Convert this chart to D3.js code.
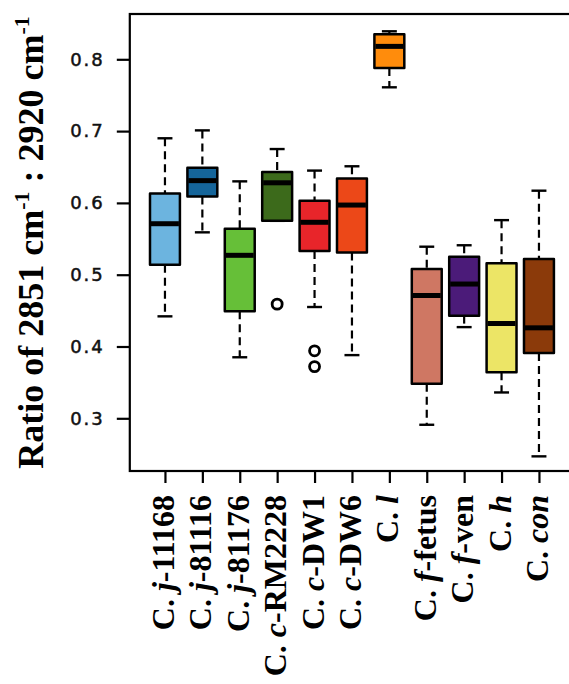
<!DOCTYPE html>
<html lang="en">
<head>
    <meta charset="UTF-8">
    <title>Ratio of 2851 / 2920 cm-1 boxplot</title>
    <style>
        body { margin: 0; background: #fff; }
        .whisker { stroke: #000; stroke-width: 2.2; stroke-dasharray: 8,5; }
        .staple { stroke: #000; stroke-width: 2.4; }
        .box { stroke: #000; stroke-width: 2.5; stroke-linejoin: round; }
        .median { stroke: #000; stroke-width: 5; }
        .outlier { fill: none; stroke: #000; stroke-width: 2.8; }
        .ytick text { font-family: "DejaVu Sans", sans-serif; font-size: 18px; letter-spacing: 2px; fill: #111; stroke: #111; stroke-width: 0.5; }
        .xlab { font-family: "Liberation Serif", "Times New Roman", serif; font-weight: bold; font-size: 32px; }
        .ytitle { font-family: "Liberation Serif", "Times New Roman", serif; font-weight: bold; font-size: 36px; }
    </style>
</head>
<body>
<div id="chart"></div>
<script src="https://d3js.org/d3.v7.min.js"></script>
<script>
    // strain labels: [upright prefix, italic part, upright suffix]
    const labelParts = [
        ["C. ", "j", "-11168"],
        ["C. ", "j", "-81116"],
        ["C. ", "j", "-81176"],
        ["C. ", "c", "-RM2228"],
        ["C. ", "c", "-DW1"],
        ["C. ", "c", "-DW6"],
        ["C. ", "l", ""],
        ["C. ", "f", "-fetus"],
        ["C. ", "f", "-ven"],
        ["C. ", "h", ""],
        ["C. ", "con", ""]
    ];

    const whiskerHigh = [0.690, 0.701, 0.630, 0.675, 0.645, 0.651, 0.839, 0.539, 0.541, 0.576, 0.617];
    const upperQ      = [0.613, 0.649, 0.564, 0.643, 0.603, 0.634, 0.835, 0.508, 0.525, 0.516, 0.522];
    const medians     = [0.571, 0.631, 0.527, 0.628, 0.573, 0.597, 0.818, 0.471, 0.487, 0.432, 0.426];
    const lowerQ      = [0.514, 0.609, 0.449, 0.575, 0.533, 0.531, 0.788, 0.348, 0.443, 0.364, 0.391];
    const whiskerLow  = [0.442, 0.559, 0.385, 0.575, 0.455, 0.388, 0.761, 0.291, 0.427, 0.336, 0.247];
    const outliers    = [[], [], [], [0.459], [0.394, 0.372], [], [], [], [], [], []];

    const fills = ["#6cb4df", "#15659a", "#66bf38", "#3c6a1b", "#e8252a", "#ec4818",
                   "#ff8c0c", "#cf7763", "#4b1b79", "#ece566", "#8b3a0a"];

    const yTicks = [0.3, 0.4, 0.5, 0.6, 0.7, 0.8];

    const W = 569, H = 684;
    const frame = { left: 129.8, top: 14, bottom: 471 };

    const svg = d3.select("#chart").append("svg")
        .attr("width", W)
        .attr("height", H);

    // R style: positions 1..n, xlim (0.5, n+0.5) extended by 4%
    const n = labelParts.length;
    const unit = 37.4;
    const x = d3.scaleLinear()
        .domain([0.06, n + 0.94])
        .range([frame.left, frame.left + (n + 0.88) * unit]);

    const y = d3.scaleLinear()
        .domain([0.3, 0.8])
        .range([418.3, 59.3]);

    const boxW = 0.8 * unit;
    const stapleW = 0.5 * boxW;

    // frame
    svg.append("rect")
        .attr("x", frame.left)
        .attr("y", frame.top)
        .attr("width", W + 10 - frame.left)
        .attr("height", frame.bottom - frame.top)
        .attr("fill", "none")
        .attr("stroke", "#000")
        .attr("stroke-width", 2.2);

    // y axis
    const yAxis = d3.axisLeft(y)
        .tickValues(yTicks)
        .tickFormat(d3.format(".1f"))
        .tickSize(13)
        .tickPadding(12);

    const yg = svg.append("g")
        .attr("class", "ytick")
        .attr("transform", `translate(${frame.left},0)`)
        .call(yAxis);
    yg.select(".domain").remove();
    yg.selectAll("line").attr("stroke", "#000").attr("stroke-width", 2.2);

    // x axis ticks
    const idx = d3.range(n);
    const xAxis = d3.axisBottom(x)
        .tickValues(idx.map(i => i + 1))
        .tickFormat("")
        .tickSize(12);
    const xg = svg.append("g")
        .attr("transform", `translate(0,${frame.bottom})`)
        .call(xAxis);
    xg.select(".domain").remove();
    xg.selectAll("line").attr("stroke", "#000").attr("stroke-width", 2.2);

    // x labels, rotated
    const xl = svg.append("g").selectAll("text")
        .data(labelParts)
        .join("text")
        .attr("class", "xlab")
        .attr("text-anchor", "end")
        .attr("transform", (d, i) => `translate(${x(i + 1)},${frame.bottom + 24}) rotate(-90)`)
        .attr("dy", "0.28em");
    xl.append("tspan").text(d => d[0]);
    xl.append("tspan").attr("font-style", "italic").text(d => d[1]);
    xl.append("tspan").text(d => d[2]);

    // boxes
    const g = svg.append("g").selectAll("g")
        .data(idx)
        .join("g");

    g.append("line")
        .attr("class", "whisker")
        .attr("x1", i => x(i + 1)).attr("x2", i => x(i + 1))
        .attr("y1", i => y(whiskerHigh[i])).attr("y2", i => y(upperQ[i]));
    g.append("line")
        .attr("class", "whisker")
        .attr("x1", i => x(i + 1)).attr("x2", i => x(i + 1))
        .attr("y1", i => y(lowerQ[i])).attr("y2", i => y(whiskerLow[i]));

    g.append("line")
        .attr("class", "staple")
        .attr("x1", i => x(i + 1) - stapleW / 2).attr("x2", i => x(i + 1) + stapleW / 2)
        .attr("y1", i => y(whiskerHigh[i])).attr("y2", i => y(whiskerHigh[i]));
    g.append("line")
        .attr("class", "staple")
        .attr("x1", i => x(i + 1) - stapleW / 2).attr("x2", i => x(i + 1) + stapleW / 2)
        .attr("y1", i => y(whiskerLow[i])).attr("y2", i => y(whiskerLow[i]));

    g.append("rect")
        .attr("class", "box")
        .attr("x", i => x(i + 1) - boxW / 2)
        .attr("width", boxW)
        .attr("y", i => y(upperQ[i]))
        .attr("height", i => y(lowerQ[i]) - y(upperQ[i]))
        .attr("fill", i => fills[i]);

    g.append("line")
        .attr("class", "median")
        .attr("x1", i => x(i + 1) - boxW / 2 + 1).attr("x2", i => x(i + 1) + boxW / 2 - 1)
        .attr("y1", i => y(medians[i])).attr("y2", i => y(medians[i]));

    g.selectAll("circle")
        .data(i => outliers[i].map(v => ({ i, v })))
        .join("circle")
        .attr("class", "outlier")
        .attr("cx", d => x(d.i + 1))
        .attr("cy", d => y(d.v))
        .attr("r", 5);

    // y title
    const yt = svg.append("text")
        .attr("class", "ytitle")
        .attr("text-anchor", "middle")
        .attr("transform", `translate(43,${(frame.top + frame.bottom) / 2}) rotate(-90)`);
    yt.append("tspan").text("Ratio of 2851 cm");
    yt.append("tspan").attr("font-size", "22px").attr("dy", "-14").text("-1");
    yt.append("tspan").attr("dy", "14").text(" : 2920 cm");
    yt.append("tspan").attr("font-size", "22px").attr("dy", "-14").text("-1");
</script>
</body>
</html>
